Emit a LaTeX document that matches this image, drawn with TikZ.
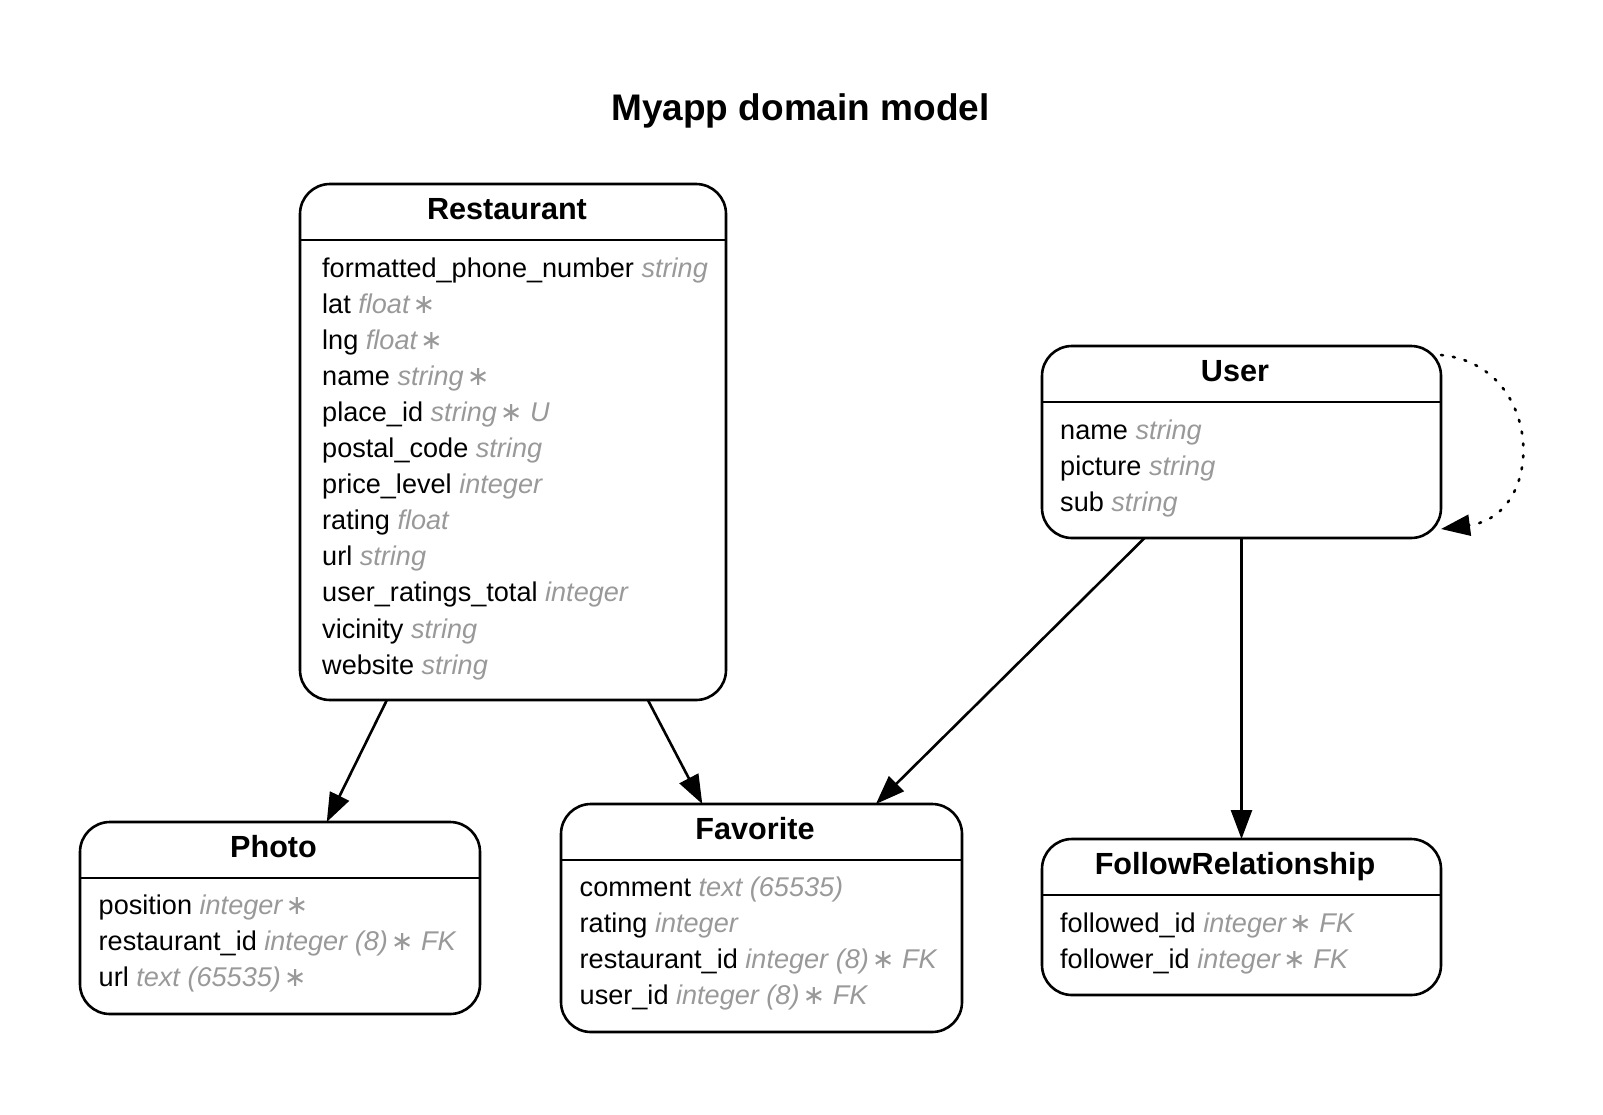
\documentclass[tikz,border=0pt]{standalone}
\usepackage{fontspec}
\setmainfont{Liberation Sans}
\newfontfamily\astfont{DejaVu Sans}
\usetikzlibrary{positioning}
\usetikzlibrary{arrows.meta}
\definecolor{typegray}{HTML}{999999}
\tikzset{
    entity/.style = {rectangle, draw=black, line width=2.6pt, rounded corners=30pt, inner sep=0pt, outer sep=0pt},
    enthead/.style = {rectangle, inner sep=0pt, outer sep=0pt, minimum height=56pt, anchor=north},
    entname/.style = {anchor=base, inner sep=0pt, font=\fontsize{30.6}{36}\selectfont\bfseries},
    attr/.style = {anchor=base west, inner sep=0pt, font=\fontsize{27.1}{36}\selectfont},
    diagtitle/.style = {anchor=base, inner sep=0pt, font=\fontsize{37}{42}\selectfont\bfseries},
    divider/.style = {line width=2.6pt},
    relation/.style = {-{Triangle[length=29pt,width=21pt]}, line width=2.6pt},
    selfrel/.style = {relation, line cap=round, dash pattern=on 2pt off 10pt}, % self reference
}
\newcommand{\ty}[1]{\textcolor{typegray}{\itshape #1}}
\newcommand{\req}{\kern3pt{\astfont\upshape ∗}}

\begin{document}
\begin{tikzpicture}[x=1pt, y=-1pt]
  \useasboundingbox (0,0) rectangle (1603,1114);

  \node[diagtitle] (title) at (800.5,120) {Myapp domain model};

  % entities
  \node[entity, minimum width=426pt, minimum height=516pt] (restaurant) at (513,442) {};
  \node[entity, minimum width=399pt, minimum height=192pt] (user) at (1241.5,442) {};
  \node[entity, minimum width=400pt, minimum height=192pt] (photo) at (280,918) {};
  \node[entity, minimum width=401pt, minimum height=228pt] (favorite) at (761.5,918) {};
  \node[entity, minimum width=399pt, minimum height=156pt] (follow) at (1241.5,917) {};

  \node[enthead, minimum width=426pt] (restaurant-head) at (restaurant.north) {};
  \node[enthead, minimum width=399pt] (user-head) at (user.north) {};
  \node[enthead, minimum width=400pt] (photo-head) at (photo.north) {};
  \node[enthead, minimum width=401pt] (favorite-head) at (favorite.north) {};
  \node[enthead, minimum width=399pt] (follow-head) at (follow.north) {};

  \draw[divider] (restaurant-head.south west) -- (restaurant-head.south east);
  \draw[divider] (user-head.south west) -- (user-head.south east);
  \draw[divider] (photo-head.south west) -- (photo-head.south east);
  \draw[divider] (favorite-head.south west) -- (favorite-head.south east);
  \draw[divider] (follow-head.south west) -- (follow-head.south east);

  \node[entname] (restaurant-name) at (507,219.5) {Restaurant};
  \node[entname] (user-name) at (1235,381.5) {User};
  \node[entname] (photo-name) at (273.5,857.5) {Photo};
  \node[entname] (favorite-name) at (755,839.5) {Favorite};
  \node[entname] (follow-name) at (1235,874.5) {FollowRelationship};

  % Restaurant
  \node[attr] (restaurant-a1) at (322,277.0) {formatted\_phone\_number \ty{string}};
  \node[attr] (restaurant-a2) at (322,313.1) {lat \ty{float\req}};
  \node[attr] (restaurant-a3) at (322,349.2) {lng \ty{float\req}};
  \node[attr] (restaurant-a4) at (322,385.3) {name \ty{string\req}};
  \node[attr] (restaurant-a5) at (322,421.4) {place\_id \ty{string\req{} U}};
  \node[attr] (restaurant-a6) at (322,457.5) {postal\_code \ty{string}};
  \node[attr] (restaurant-a7) at (322,493.6) {price\_level \ty{integer}};
  \node[attr] (restaurant-a8) at (322,529.7) {rating \ty{float}};
  \node[attr] (restaurant-a9) at (322,565.8) {url \ty{string}};
  \node[attr] (restaurant-a10) at (322,601.9) {user\_ratings\_total \ty{integer}};
  \node[attr] (restaurant-a11) at (322,638.0) {vicinity \ty{string}};
  \node[attr] (restaurant-a12) at (322,674.1) {website \ty{string}};

  % User
  \node[attr] (user-a1) at (1060,439.0) {name \ty{string}};
  \node[attr] (user-a2) at (1060,475.1) {picture \ty{string}};
  \node[attr] (user-a3) at (1060,511.2) {sub \ty{string}};

  % Photo
  \node[attr] (photo-a1) at (98.5,914.0) {position \ty{integer\req}};
  \node[attr] (photo-a2) at (98.5,950.1) {restaurant\_id \ty{integer (8)\req{} FK}};
  \node[attr] (photo-a3) at (98.5,986.2) {url \ty{text (65535)\req}};

  % Favorite
  \node[attr] (favorite-a1) at (579.5,896.0) {comment \ty{text (65535)}};
  \node[attr] (favorite-a2) at (579.5,932.1) {rating \ty{integer}};
  \node[attr] (favorite-a3) at (579.5,968.2) {restaurant\_id \ty{integer (8)\req{} FK}};
  \node[attr] (favorite-a4) at (579.5,1004.3) {user\_id \ty{integer (8)\req{} FK}};

  % FollowRelationship
  \node[attr] (follow-a1) at (1060,932.0) {followed\_id \ty{integer\req{} FK}};
  \node[attr] (follow-a2) at (1060,968.1) {follower\_id \ty{integer\req{} FK}};

  % relations
  \draw[relation] (restaurant) -- (photo);
  \draw[relation] (restaurant) -- (favorite);
  \draw[relation] (user) -- (favorite);
  \draw[relation] (user) -- (follow);
  \draw[selfrel] ([yshift=-9pt]user.north east) .. controls +(103,10) and +(106,-14) .. ([yshift=9pt]user.south east);

\end{tikzpicture}
\end{document}
